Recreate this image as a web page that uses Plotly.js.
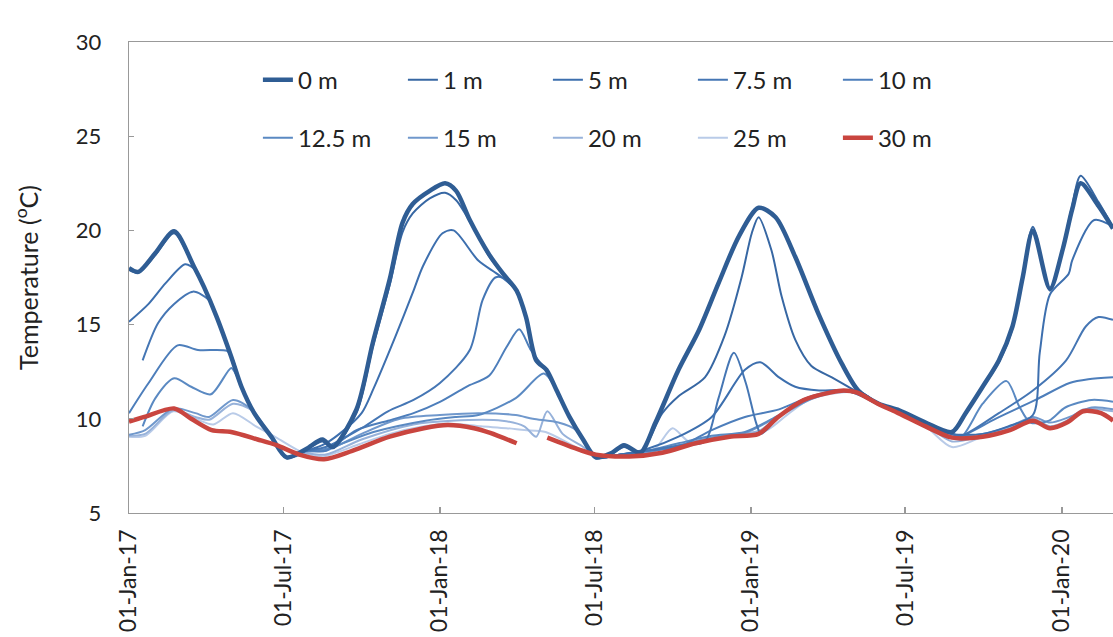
<!DOCTYPE html>
<html>
<head>
<meta charset="utf-8">
<script src="https://cdn.plot.ly/plotly-3.0.1.min.js"></script>
<style>html,body{margin:0;padding:0;background:#fff;}#chart{width:1113px;height:637px;}</style>
</head>
<body>
<div id="chart"></div>
<script>
// ---- Data ----
const depthNames = ['0 m','1 m','5 m','7.5 m','10 m','12.5 m','15 m','20 m','25 m','30 m'];

const tickDates = ['2017-01-01','2017-07-01','2018-01-01','2018-07-01','2019-01-01','2019-07-01','2020-01-01'];
const tickLabels = ['01-Jan-17','01-Jul-17','01-Jan-18','01-Jul-18','01-Jan-19','01-Jul-19','01-Jan-20'];

const dates0m = ['2017-01-01','2017-01-12','2017-02-01','2017-02-23','2017-03-18','2017-03-30','2017-04-14','2017-05-01','2017-05-13','2017-05-28','2017-06-17','2017-07-05','2017-07-28','2017-08-16','2017-08-28','2017-09-25','2017-10-14','2017-11-03','2017-11-18','2017-11-30','2017-12-20','2018-01-07','2018-01-20','2018-02-05','2018-02-28','2018-03-16','2018-04-01','2018-04-12','2018-04-24','2018-05-06','2018-05-18','2018-06-02','2018-06-18','2018-07-03','2018-07-22','2018-08-05','2018-08-24','2018-09-11','2018-10-08','2018-11-01','2018-11-24','2018-12-18','2019-01-10','2019-01-30','2019-02-22','2019-03-21','2019-04-18','2019-05-07','2019-05-31','2019-06-24','2019-07-25','2019-08-25','2019-09-10','2019-09-30','2019-10-19','2019-11-04','2019-11-16','2019-11-28','2019-12-18','2020-01-02','2020-01-13','2020-01-23','2020-02-13','2020-03-01'];
const temp0m = [18.0,17.8,18.8,19.95,18.1,17.0,15.4,13.3,11.7,10.3,9.05,7.95,8.4,8.9,8.5,10.5,14.0,17.4,20.4,21.4,22.1,22.5,22.1,20.55,18.7,17.7,16.8,15.4,13.1,12.6,11.5,10.1,8.9,7.95,8.2,8.6,8.2,9.8,12.6,14.7,17.2,19.7,21.2,20.7,18.6,15.6,12.9,11.5,10.8,10.45,9.8,9.3,10.3,11.7,13.1,14.9,17.5,20.0,16.9,19.0,21.1,22.5,21.3,20.1];

const dates1m = ['2017-01-01','2017-01-12','2017-02-01','2017-02-23','2017-03-18','2017-03-30','2017-04-14','2017-05-01','2017-05-13','2017-05-28','2017-06-17','2017-07-05','2017-07-28','2017-08-16','2017-08-28','2017-09-25','2017-10-14','2017-11-03','2017-11-18','2017-11-30','2017-12-20','2018-01-07','2018-01-20','2018-02-13','2018-02-28','2018-03-16','2018-04-01','2018-04-12','2018-04-24','2018-05-06','2018-05-18','2018-06-02','2018-06-18','2018-07-03','2018-07-22','2018-08-05','2018-08-24','2018-09-19','2018-10-08','2018-11-08','2018-12-01','2018-12-21','2019-01-02','2019-01-10','2019-01-25','2019-02-06','2019-02-22','2019-03-13','2019-04-06','2019-05-03','2019-05-31','2019-06-24','2019-07-25','2019-08-25','2019-09-10','2019-09-30','2019-10-19','2019-11-04','2019-11-16','2019-11-28','2019-12-18','2020-01-02','2020-01-13','2020-01-23','2020-02-13','2020-03-01'];
const temp1m = [17.9,17.75,18.7,19.85,18.05,16.95,15.35,13.25,11.65,10.3,9.0,7.9,8.35,8.8,8.45,10.3,13.8,17.1,19.9,20.9,21.7,22.0,21.6,19.85,18.6,17.65,16.75,15.35,13.05,12.55,11.45,10.05,8.85,7.9,8.15,8.5,8.2,10.3,11.2,12.2,14.4,17.5,19.85,20.7,18.96,16.5,14.2,12.8,12.2,11.5,10.75,10.4,9.75,9.25,10.25,11.65,13.0,14.8,17.6,20.2,16.8,19.1,21.3,22.9,21.5,20.15];

const dates5m = ['2017-01-01','2017-01-24','2017-02-13','2017-03-08','2017-03-20','2017-03-30','2017-04-14','2017-05-01','2017-05-13','2017-05-28','2017-06-17','2017-07-05','2017-07-28','2017-08-16','2017-09-05','2017-10-01','2017-10-15','2017-11-10','2017-12-01','2017-12-12','2018-01-04','2018-01-17','2018-02-15','2018-03-12','2018-04-01','2018-04-12','2018-04-24','2018-05-06','2018-05-18','2018-06-02','2018-06-18','2018-07-03','2018-08-01','2018-09-01','2018-10-08','2018-11-16','2018-12-25','2019-01-12','2019-02-03','2019-02-22','2019-03-22','2019-04-23','2019-05-31','2019-06-24','2019-07-25','2019-08-25','2019-09-30','2019-10-30','2019-11-28','2019-12-06','2019-12-18','2020-01-09','2020-01-13','2020-02-08','2020-03-01'];
const temp5m = [15.15,16.1,17.2,18.2,17.9,16.95,15.4,13.3,11.7,10.3,9.05,7.95,8.3,8.6,9.2,10.3,11.6,14.4,16.8,18.1,19.85,20.0,18.4,17.6,16.8,15.4,13.1,12.6,11.5,10.1,8.9,7.95,8.1,8.4,9.05,10.1,12.6,13.0,12.2,11.7,11.5,11.5,10.8,10.4,9.75,9.2,9.2,9.6,10.2,13.5,16.6,17.7,18.4,20.55,20.2];

const dates7m5 = ['2017-01-17','2017-02-04','2017-02-23','2017-03-17','2017-04-05','2017-04-14','2017-05-01','2017-05-13','2017-05-28','2017-06-17','2017-07-05','2017-07-28','2017-08-20','2017-10-01','2017-11-01','2017-12-01','2018-01-01','2018-02-05','2018-02-20','2018-03-07','2018-03-18','2018-04-01','2018-04-12','2018-04-24','2018-05-06','2018-05-18','2018-06-02','2018-06-18','2018-07-03','2018-08-01','2018-09-01','2018-10-10','2018-11-08','2018-11-24','2018-12-12','2018-12-26','2019-01-07','2019-01-13','2019-02-03','2019-03-04','2019-04-05','2019-05-02','2019-05-31','2019-06-24','2019-07-25','2019-08-25','2019-09-05','2019-10-19','2019-11-28','2020-01-06','2020-01-29','2020-02-13','2020-03-01'];
const temp7m5 = [13.1,15.07,16.1,16.75,16.3,15.4,13.3,11.7,10.3,9.05,7.95,8.3,8.5,9.5,10.4,11.0,11.9,13.65,16.3,17.5,17.45,16.8,15.4,13.1,12.6,11.5,10.1,8.9,7.95,8.1,8.3,8.6,8.8,11.1,13.5,11.9,9.8,9.2,10.1,11.0,11.4,11.4,10.8,10.4,9.75,9.2,9.1,10.3,11.5,13.1,14.9,15.4,15.25];

const dates10m = ['2017-01-01','2017-01-24','2017-02-27','2017-03-23','2017-04-26','2017-05-02','2017-05-13','2017-05-28','2017-06-17','2017-07-05','2017-07-28','2017-08-20','2017-09-25','2017-11-01','2017-12-01','2018-01-01','2018-02-01','2018-02-28','2018-03-20','2018-04-04','2018-04-17','2018-04-30','2018-05-06','2018-05-18','2018-06-02','2018-06-18','2018-07-03','2018-08-01','2018-09-01','2018-10-08','2018-11-16','2018-12-25','2019-02-03','2019-03-13','2019-04-14','2019-05-10','2019-05-31','2019-06-24','2019-07-25','2019-08-25','2019-09-05','2019-10-15','2019-12-01','2020-01-10','2020-02-01','2020-03-01'];
const temp10m = [10.3,11.9,13.9,13.65,13.6,13.25,11.7,10.3,9.05,7.95,8.3,8.3,9.4,9.9,10.3,10.9,11.7,12.3,13.8,14.75,13.7,12.9,12.6,11.5,10.1,8.9,7.95,8.1,8.3,8.5,9.4,10.1,10.5,11.2,11.5,11.4,10.8,10.4,9.75,9.2,9.1,10.0,11.0,11.9,12.1,12.2];

const dates12m5 = ['2017-01-17','2017-02-01','2017-02-23','2017-03-15','2017-04-07','2017-05-01','2017-05-06','2017-05-13','2017-05-28','2017-06-17','2017-07-05','2017-07-28','2017-08-20','2017-10-15','2017-12-15','2018-01-20','2018-02-15','2018-03-31','2018-05-03','2018-05-18','2018-06-02','2018-06-18','2018-07-03','2018-08-01','2018-09-01','2018-10-08','2018-11-16','2018-12-25','2019-02-03','2019-03-13','2019-04-14','2019-05-10','2019-05-31','2019-06-24','2019-07-25','2019-08-25','2019-09-05','2019-09-30','2019-10-28','2019-11-12','2019-11-25','2019-12-17','2020-01-05','2020-02-05','2020-03-01'];
const temp12m5 = [9.6,11.1,12.15,11.7,11.3,12.7,12.4,11.7,10.3,9.05,7.95,8.3,8.4,9.3,9.9,10.1,10.2,11.1,12.4,11.5,10.1,8.9,7.95,8.1,8.3,8.7,9.1,9.3,10.2,11.1,11.5,11.4,10.8,10.4,9.75,9.2,9.05,10.8,12.0,10.65,9.8,9.9,10.6,11.0,10.9];

const dates15m = ['2017-01-01','2017-01-20','2017-02-22','2017-03-20','2017-04-05','2017-05-03','2017-05-25','2017-06-17','2017-07-05','2017-07-28','2017-08-20','2017-10-01','2017-11-15','2018-01-01','2018-02-15','2018-03-31','2018-04-20','2018-05-20','2018-06-10','2018-07-03','2018-08-01','2018-09-01','2018-10-08','2018-11-16','2018-12-25','2019-02-03','2019-03-13','2019-04-14','2019-05-10','2019-05-31','2019-06-24','2019-07-25','2019-08-25','2019-09-30','2019-11-01','2019-11-28','2019-12-18','2020-01-10','2020-02-05','2020-03-01'];
const temp15m = [9.15,9.4,10.55,10.3,10.1,11.0,10.5,9.05,7.95,8.25,8.3,9.2,10.0,10.2,10.3,10.2,10.0,9.8,9.4,8.0,8.1,8.2,8.6,9.0,9.25,10.15,11.05,11.45,11.4,10.8,10.4,9.75,9.1,9.2,9.6,10.1,9.8,10.1,10.6,10.5];

const dates20m = ['2017-01-01','2017-01-20','2017-02-22','2017-03-20','2017-04-05','2017-05-03','2017-05-25','2017-06-17','2017-07-05','2017-07-28','2017-08-20','2017-10-01','2017-12-01','2018-01-15','2018-03-15','2018-04-10','2018-04-24','2018-05-07','2018-05-25','2018-06-15','2018-07-03','2018-08-11','2018-09-19','2018-10-28','2018-12-07','2019-01-10','2019-02-02','2019-03-04','2019-04-05','2019-05-02','2019-05-31','2019-06-24','2019-07-25','2019-08-25','2019-09-30','2019-11-01','2019-11-28','2019-12-18','2020-01-07','2020-01-26','2020-03-01'];
const temp20m = [9.1,9.2,10.45,10.1,9.95,10.8,10.45,9.0,7.95,8.15,8.1,8.9,9.7,9.9,9.9,9.6,9.05,10.4,9.2,8.6,8.1,8.0,8.25,8.8,9.15,9.35,10.1,11.0,11.4,11.4,10.8,10.4,9.7,8.8,9.1,9.5,10.0,9.6,9.9,10.5,10.4];

const dates25m = ['2017-01-01','2017-01-20','2017-02-22','2017-03-20','2017-04-10','2017-05-03','2017-05-30','2017-06-23','2017-07-20','2017-08-15','2017-09-25','2017-11-03','2017-12-13','2018-01-10','2018-02-18','2018-03-20','2018-04-10','2018-05-05','2018-06-14','2018-07-03','2018-08-11','2018-09-10','2018-10-01','2018-10-20','2018-11-20','2018-12-20','2019-01-20','2019-02-15','2019-03-10','2019-04-10','2019-05-02','2019-05-30','2019-06-23','2019-07-25','2019-08-25','2019-09-30','2019-11-01','2019-11-28','2019-12-18','2020-01-07','2020-01-26','2020-02-16','2020-03-01'];
const temp25m = [9.05,9.1,10.4,10.0,9.7,10.3,9.6,9.0,8.3,8.0,8.6,9.2,9.6,9.75,9.6,9.5,9.4,9.3,8.4,8.1,8.0,8.4,9.5,8.8,8.95,9.2,9.4,10.3,11.0,11.35,11.4,10.8,10.3,9.6,8.5,9.05,9.4,9.9,9.5,9.8,10.4,10.35,10.0];

const dates30m = ['2017-01-01','2017-01-19','2017-02-23','2017-03-15','2017-04-08','2017-05-01','2017-06-01','2017-06-23','2017-07-20','2017-08-18','2017-09-20','2017-11-03','2017-12-13','2018-01-10','2018-02-10','2018-03-01','2018-04-01','2018-04-15','2018-05-07','2018-06-14','2018-07-03','2018-08-11','2018-09-19','2018-10-28','2018-12-07','2019-01-10','2019-02-02','2019-03-04','2019-04-05','2019-04-20','2019-05-05','2019-05-30','2019-06-23','2019-07-25','2019-08-25','2019-09-30','2019-11-01','2019-11-28','2019-12-18','2020-01-07','2020-01-26','2020-02-16','2020-03-01'];
const temp30m = [9.85,10.1,10.55,10.0,9.4,9.3,8.9,8.6,8.1,7.85,8.3,9.05,9.5,9.67,9.5,9.25,8.7,null,9.0,8.35,8.1,8.0,8.2,8.7,9.05,9.2,10.1,11.0,11.4,11.5,11.4,10.8,10.3,9.6,9.0,9.05,9.4,9.9,9.5,9.8,10.4,10.3,9.9];

const seriesDates = [dates0m,dates1m,dates5m,dates7m5,dates10m,dates12m5,dates15m,dates20m,dates25m,dates30m];
const seriesTemps = [temp0m,temp1m,temp5m,temp7m5,temp10m,temp12m5,temp15m,temp20m,temp25m,temp30m];

// ---- Styles ----
const colors = ['#2f5d94','#3767a3','#3d6fae','#4576b4','#4d7ebb','#5a89c2','#7098cc','#97b2da','#b9cbe8','#c9453f'];
const widths = [4.5,2,2,2,2,2,2,2,2,4.5];
const drawOrder = [8,7,6,5,4,3,2,1,0,9];

const traces = drawOrder.map(function(i){
  return {
    type:'scatter', mode:'lines',
    x: seriesDates[i], y: seriesTemps[i],
    name: depthNames[i],
    line:{color:colors[i], width:widths[i], shape:'spline', smoothing:0.8},
    legend: i < 5 ? 'legend' : 'legend2',
    legendrank: i + 1,
    connectgaps:false,
    hoverinfo:'skip'
  };
});

const fam = 'Lato, "Open Sans", sans-serif';
const legendFont = {family:fam, size:24, color:'#222'};
const layout = {
  width:1113, height:637,
  margin:{l:129, r:0, t:42, b:124},
  paper_bgcolor:'#fff', plot_bgcolor:'#fff',
  font:{family:fam, color:'#222'},
  showlegend:true,
  xaxis:{
    type:'date', range:['2017-01-01','2020-03-01'],
    tickmode:'array', tickvals:tickDates, ticktext:tickLabels,
    tickangle:-90, ticks:'inside', ticklen:6, tickcolor:'#999', tickwidth:1.3,
    showline:true, linecolor:'#999', linewidth:1.3, mirror:true,
    showgrid:false, zeroline:false,
    tickfont:{family:fam, size:23, color:'#222'},
    ticklabelstandoff:6
  },
  yaxis:{
    range:[5,30], dtick:5, tick0:5,
    ticks:'inside', ticklen:5, tickcolor:'#999', tickwidth:1.3,
    showline:true, linecolor:'#999', linewidth:1.3,
    showgrid:false, zeroline:false,
    tickfont:{family:fam, size:22, color:'#222'},
    ticklabelstandoff:22,
    title:{text:'Temperature (<sup>o</sup>C)', font:{family:fam, size:25, color:'#222'}, standoff:30}
  },
  legend:{orientation:'h', x:0.131, xanchor:'left', y:0.919, yanchor:'middle',
    font:legendFont, bgcolor:'rgba(0,0,0,0)', borderwidth:0,
    entrywidth:100, entrywidthmode:'pixels', itemwidth:30, traceorder:'normal'},
  legend2:{orientation:'h', x:0.131, xanchor:'left', y:0.796, yanchor:'middle',
    font:legendFont, bgcolor:'rgba(0,0,0,0)', borderwidth:0,
    entrywidth:100, entrywidthmode:'pixels', itemwidth:30, traceorder:'normal'}
};

Plotly.newPlot('chart', traces, layout, {displayModeBar:false, staticPlot:true});
</script>
</body>
</html>
